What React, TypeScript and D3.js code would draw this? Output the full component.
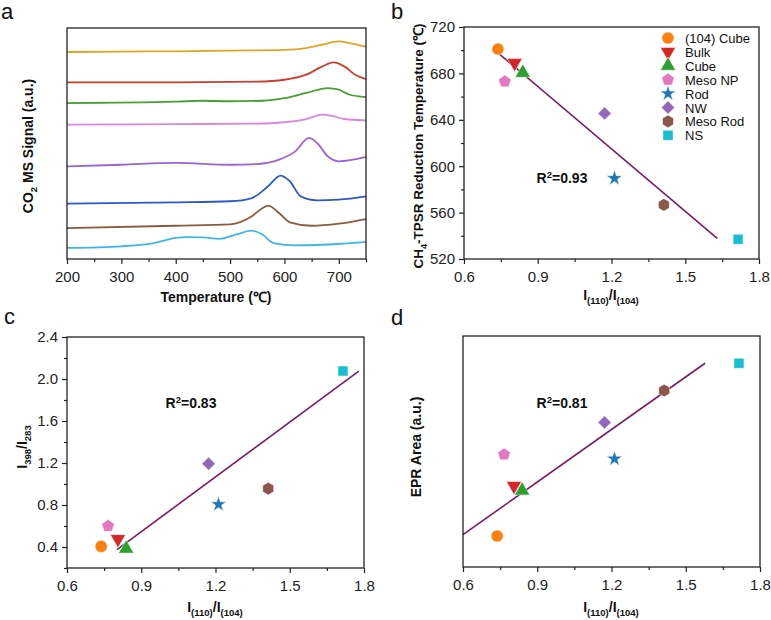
import { useEffect, useRef } from "react";
import * as d3 from "d3";

// samples, in legend order
const samples = ["(104) Cube", "Bulk", "Cube", "Meso NP", "Rod", "NW", "Meso Rod", "NS"];
const markerColors = ["#ff7f0e", "#d62728", "#2ca02c", "#e377c2", "#1f77b4", "#9467bd", "#8c564b", "#17becf"];
const markerShapes = ["circle", "triangleDown", "triangleUp", "pentagon", "star", "diamond", "hexagon", "square"];

// I(110)/I(104) for each sample
const ratio = [0.738, 0.806, 0.839, 0.766, 1.212, 1.172, 1.413, 1.715];
// panel b: CH4-TPSR reduction temperature (℃)
const tpsrTemp = [701, 689, 680.5, 673, 589.6, 645.5, 566.7, 537];
// panel c: I398/I283
const ramanRatio = [0.406, 0.476, 0.384, 0.6, 0.806, 1.194, 0.956, 2.076];
// panel d: EPR area (a.u.)
const eprArea = [1.34, 3.51, 3.31, 4.87, 4.68, 6.26, 7.64, 8.82];

// linear fits (end points)
const fitTpsrX = [0.72, 1.63];
const fitTpsrY = [701, 537.8];
const fitRamanX = [0.802, 1.779];
const fitRamanY = [0.375, 2.076];
const fitEprX = [0.6, 1.578];
const fitEprY = [1.4, 8.82];

const r2Labels = ["=0.93", "=0.83", "=0.81"];

// panel a: CO2 MS signal traces [temperature, signal], top to bottom
const traceCube104: [number, number][] = [[200, 8.96], [300, 8.98], [400, 8.99], [500, 9.02], [600, 9.05], [640, 9.13], [670, 9.28], [700, 9.42], [720, 9.35], [740, 9.24], [750, 9.19]];
const traceBulk: [number, number][] = [[200, 7.65], [400, 7.65], [550, 7.68], [600, 7.76], [640, 7.98], [670, 8.34], [690, 8.51], [710, 8.34], [730, 7.98], [750, 7.79]];
const traceCube: [number, number][] = [[200, 6.75], [400, 6.81], [450, 6.85], [500, 6.83], [560, 6.85], [600, 6.96], [640, 7.19], [680, 7.4], [700, 7.33], [720, 7.11], [750, 7.01]];
const traceMesoNP: [number, number][] = [[200, 5.82], [400, 5.84], [550, 5.86], [600, 5.92], [640, 6.06], [670, 6.25], [690, 6.18], [710, 6.06], [750, 6.0]];
const traceNW: [number, number][] = [[200, 4.01], [300, 4.08], [400, 4.16], [500, 4.08], [550, 4.11], [590, 4.3], [620, 4.66], [645, 5.24], [660, 5.02], [680, 4.44], [700, 4.23], [750, 4.42]];
const traceRod: [number, number][] = [[200, 2.4], [400, 2.45], [500, 2.5], [540, 2.64], [570, 3.15], [593, 3.61], [610, 3.36], [630, 2.71], [660, 2.54], [700, 2.57], [750, 2.71]];
const traceMesoRod: [number, number][] = [[200, 1.34], [400, 1.44], [500, 1.5], [540, 1.85], [560, 2.21], [570, 2.31], [590, 1.99], [610, 1.59], [650, 1.44], [700, 1.53], [750, 1.73]];
const traceNS: [number, number][] = [[200, 0.48], [300, 0.55], [360, 0.69], [400, 0.91], [420, 0.95], [450, 0.94], [480, 0.87], [510, 1.05], [540, 1.23], [560, 1.05], [580, 0.69], [620, 0.59], [700, 0.65], [750, 0.74]];
const traces = [traceCube104, traceBulk, traceCube, traceMesoNP, traceNW, traceRod, traceMesoRod, traceNS];
const traceColors = ["#e0a526", "#c8402c", "#46a032", "#d987e0", "#9b63d6", "#2e57cc", "#8c5a3c", "#3fb6ea"];

const tempTicks = [200, 300, 400, 500, 600, 700];
const tempMinor = [250, 350, 450, 550, 650, 750];
const ratioTicks = [0.6, 0.9, 1.2, 1.5, 1.8];
const ratioMinor = [0.75, 1.05, 1.35, 1.65];
const tpsrTicks = [520, 560, 600, 640, 680, 720];
const tpsrMinor = [540, 580, 620, 660, 700];
const ramanTicks = [0.4, 0.8, 1.2, 1.6, 2.0, 2.4];
const ramanMinor = [0.2, 0.6, 1.0, 1.4, 1.8, 2.2];

const FONT = "'Liberation Sans', Arial, Helvetica, sans-serif";
type Part = [string, "n" | "sub" | "sup"];

export default function App() {
  const svgRef = useRef<SVGSVGElement>(null);

  useEffect(() => {
    document.body.style.margin = "0";
    const svg = d3.select(svgRef.current);
    svg.selectAll("*").remove();

    // text with sub/superscripts
    const rich = (x: number, y: number, parts: Part[], fs: number, bold = true, rotate = false) => {
      const t = svg.append("text")
        .attr("transform", rotate ? `translate(${x},${y}) rotate(-90)` : `translate(${x},${y})`)
        .attr("text-anchor", "middle")
        .attr("font-family", FONT).attr("font-size", fs)
        .attr("font-weight", bold ? "bold" : "normal").attr("fill", "#111");
      let shift = 0;
      parts.forEach(([s, kind]) => {
        const target = kind === "sub" ? fs * 0.28 : kind === "sup" ? -fs * 0.38 : 0;
        t.append("tspan")
          .attr("dy", target - shift)
          .attr("font-size", kind === "n" ? fs : fs * 0.68)
          .text(s);
        shift = target;
      });
      return t;
    };

    const frame = (x: d3.ScaleLinear<number, number>, y: d3.ScaleLinear<number, number>) => {
      const [x0, x1] = x.range();
      const [y0, y1] = y.range();
      svg.append("rect")
        .attr("x", x0).attr("y", y1).attr("width", x1 - x0).attr("height", y0 - y1)
        .attr("fill", "none").attr("stroke", "#222").attr("stroke-width", 1.3);
    };

    const styleAxis = (g: d3.Selection<SVGGElement, unknown, null, undefined>) => {
      g.select(".domain").remove();
      g.selectAll(".tick line").attr("stroke", "#222").attr("stroke-width", 1.2);
      g.selectAll(".tick text").attr("fill", "#222").attr("font-size", 15).attr("font-family", FONT);
    };

    const xAxis = (x: d3.ScaleLinear<number, number>, y0: number, major: number[], minor: number[], fmt: (d: number) => string) => {
      svg.append("g").attr("transform", `translate(0,${y0})`)
        .call(d3.axisBottom(x).tickValues(minor).tickSize(3).tickFormat(() => ""))
        .call(styleAxis);
      svg.append("g").attr("transform", `translate(0,${y0})`)
        .call(d3.axisBottom(x).tickValues(major).tickSize(5).tickPadding(7).tickFormat(d => fmt(+d)))
        .call(styleAxis);
    };

    const yAxis = (y: d3.ScaleLinear<number, number>, x0: number, major: number[], minor: number[], fmt: (d: number) => string) => {
      svg.append("g").attr("transform", `translate(${x0},0)`)
        .call(d3.axisLeft(y).tickValues(minor).tickSize(3).tickFormat(() => ""))
        .call(styleAxis);
      svg.append("g").attr("transform", `translate(${x0},0)`)
        .call(d3.axisLeft(y).tickValues(major).tickSize(5).tickPadding(4).tickFormat(d => fmt(+d)))
        .call(styleAxis);
    };

    const polygon = (n: number, r: number) => {
      const pts = d3.range(n).map(k => {
        const a = -Math.PI / 2 + (2 * Math.PI * k) / n;
        return [r * Math.cos(a), r * Math.sin(a)];
      });
      return "M" + pts.map(p => p.join(",")).join("L") + "Z";
    };

    const marker = (shape: string): { d: string; rot: number } => {
      switch (shape) {
        case "circle": return { d: d3.symbol(d3.symbolCircle, 115)()!, rot: 0 };
        case "triangleUp": return { d: d3.symbol(d3.symbolTriangle, 100)()!, rot: 0 };
        case "triangleDown": return { d: d3.symbol(d3.symbolTriangle, 100)()!, rot: 180 };
        case "star": return { d: d3.symbol(d3.symbolStar, 75)()!, rot: 0 };
        case "diamond": return { d: d3.symbol(d3.symbolSquare, 88)()!, rot: 45 };
        case "square": return { d: d3.symbol(d3.symbolSquare, 100)()!, rot: 0 };
        case "pentagon": return { d: polygon(5, 6.6), rot: 0 };
        default: return { d: polygon(6, 6.3), rot: 0 };
      }
    };

    const drawMarker = (cx: number, cy: number, i: number) => {
      const m = marker(markerShapes[i]);
      svg.append("path")
        .attr("d", m.d)
        .attr("transform", `translate(${cx},${cy}) rotate(${m.rot})`)
        .attr("fill", markerColors[i])
        .attr("stroke", "#fff").attr("stroke-opacity", 0.6).attr("stroke-width", 0.8);
    };

    const fitLine = (x: d3.ScaleLinear<number, number>, y: d3.ScaleLinear<number, number>, xs: number[], ys: number[]) => {
      svg.append("path")
        .attr("d", d3.line<number>().x(d => x(d)).y((_, k) => y(ys[k]))(xs))
        .attr("fill", "none").attr("stroke", "#7d1a5e").attr("stroke-width", 1.6);
    };

    const panelLabel = (x: number, y: number, s: string) => {
      svg.append("text").attr("x", x).attr("y", y)
        .attr("font-family", FONT).attr("font-size", 22).attr("fill", "#111").text(s);
    };

    const ratioTitle: Part[] = [["I", "n"], ["(110)", "sub"], ["/I", "n"], ["(104)", "sub"]];
    const fmt1 = (d: number) => d.toFixed(1);

    // ---------- panel a ----------
    const xa = d3.scaleLinear().domain([200, 750]).range([67, 366]);
    const ya = d3.scaleLinear().domain([0, 10]).range([259, 28]);
    const line = d3.line<[number, number]>().x(d => xa(d[0])).y(d => ya(d[1])).curve(d3.curveMonotoneX);
    traces.forEach((tr, i) => {
      svg.append("path").attr("d", line(tr))
        .attr("fill", "none").attr("stroke", traceColors[i]).attr("stroke-width", 1.8);
    });
    frame(xa, ya);
    xAxis(xa, 259, tempTicks, tempMinor, d => String(d));
    rich(216, 302, [["Temperature (℃)", "n"]], 14);
    rich(33, 146, [["CO", "n"], ["2", "sub"], [" MS Signal (a.u.)", "n"]], 14, true, true);
    panelLabel(1, 19, "a");

    // ---------- panel b ----------
    const xb = d3.scaleLinear().domain([0.6, 1.8]).range([464, 759]);
    const yb = d3.scaleLinear().domain([520, 720]).range([259, 27]);
    fitLine(xb, yb, fitTpsrX, fitTpsrY);
    ratio.forEach((r, i) => drawMarker(xb(r), yb(tpsrTemp[i]), i));
    frame(xb, yb);
    xAxis(xb, 259, ratioTicks, ratioMinor, fmt1);
    yAxis(yb, 464, tpsrTicks, tpsrMinor, d => String(d));
    rich(611, 300, ratioTitle, 14);
    rich(423, 146, [["CH", "n"], ["4", "sub"], ["-TPSR Reduction Temperature (℃)", "n"]], 13.5, true, true);
    rich(562, 183, [["R", "n"], ["2", "sup"], [r2Labels[0], "n"]], 14);
    samples.forEach((s, i) => {
      const ly = 38 + i * 13.9;
      drawMarker(668, ly, i);
      svg.append("text").attr("x", 685).attr("y", ly + 5)
        .attr("font-family", FONT).attr("font-size", 13).attr("fill", "#111").text(s);
    });
    panelLabel(391, 19, "b");

    // ---------- panel c ----------
    const xc = d3.scaleLinear().domain([0.6, 1.8]).range([67, 364]);
    const yc = d3.scaleLinear().domain([0.2, 2.4]).range([568, 337]);
    fitLine(xc, yc, fitRamanX, fitRamanY);
    ratio.forEach((r, i) => drawMarker(xc(r), yc(ramanRatio[i]), i));
    frame(xc, yc);
    xAxis(xc, 568, ratioTicks, ratioMinor, fmt1);
    yAxis(yc, 67, ramanTicks, ramanMinor, fmt1);
    rich(215, 612, ratioTitle, 14);
    rich(27, 447, [["I", "n"], ["398", "sub"], ["/I", "n"], ["283", "sub"]], 14, true, true);
    rich(191, 408, [["R", "n"], ["2", "sup"], [r2Labels[1], "n"]], 14);
    panelLabel(4, 324, "c");

    // ---------- panel d ----------
    const xd = d3.scaleLinear().domain([0.6, 1.8]).range([463, 760]);
    const yd = d3.scaleLinear().domain([0, 10]).range([567, 336]);
    fitLine(xd, yd, fitEprX, fitEprY);
    ratio.forEach((r, i) => drawMarker(xd(r), yd(eprArea[i]), i));
    frame(xd, yd);
    xAxis(xd, 567, ratioTicks, ratioMinor, fmt1);
    rich(611, 612, ratioTitle, 14);
    rich(421, 447, [["EPR Area (a.u.)", "n"]], 14, true, true);
    rich(562, 408, [["R", "n"], ["2", "sup"], [r2Labels[2], "n"]], 14);
    panelLabel(391, 325, "d");
  }, []);

  return <svg ref={svgRef} width={771} height={620} style={{ display: "block", background: "#fff" }} />;
}
